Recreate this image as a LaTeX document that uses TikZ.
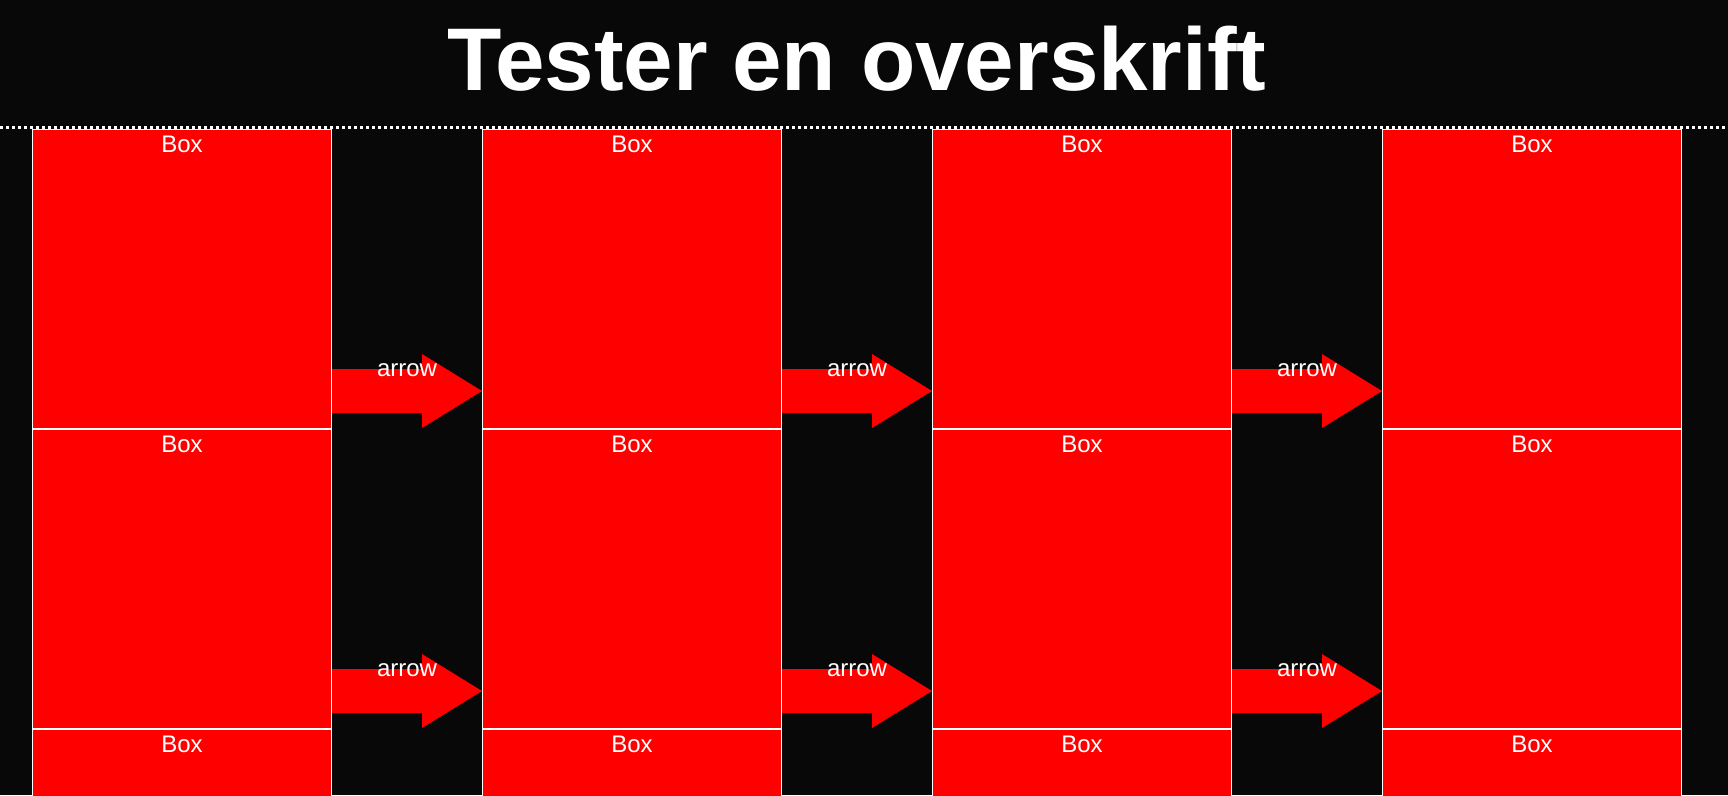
\documentclass[tikz,border=0pt]{standalone}
\usepackage{fontspec}
\setmainfont{Liberation Sans}
\usetikzlibrary{calc}
\definecolor{bgc}{RGB}{8,8,8}
\definecolor{boxred}{RGB}{255,0,0}
\tikzset{
  boxst/.style={draw=white, line width=1pt, fill=boxred, anchor=north west,
    minimum width=299pt, minimum height=299pt, inner sep=0pt, outer sep=0pt},
  boxtxt/.style={text=white, anchor=base, inner sep=0pt,
    font=\fontsize{24}{28}\selectfont},
  arrtxt/.style={text=white, anchor=base, inner sep=0pt,
    font=\fontsize{24}{28}\selectfont},
  arrfill/.style={fill=boxred},
  titlest/.style={text=white, anchor=base, inner sep=0pt,
    font=\fontsize{89}{100}\selectfont\bfseries},
  rule/.style={draw=white, line width=3pt, dash pattern=on 3pt off 3pt}
}
\begin{document}
\begin{tikzpicture}[x=1pt,y=-1pt]
\useasboundingbox (0,0) rectangle (1728,795);
\clip (0,0) rectangle (1728,795);
\fill[bgc] (0,0) rectangle (1728,795);
\node[titlest] (title) at (857,90) {Tester en overskrift};
\coordinate (rl) at (0,127.5);
\coordinate (rr) at (1728,127.5);
\draw[rule] (rl) -- (rr);
\foreach \c in {0,1,2,3}{
  \foreach \r in {0,1,2}{
    \node[boxst] (b\c\r) at ({32.5+450*\c},{129.5+300*\r}) {};
    \node[boxtxt] (t\c\r) at ($(b\c\r.north)+(0,22.5)$) {Box};
  }
}
\foreach \c [evaluate=\c as \n using int(\c+1)] in {0,1,2}{
  \foreach \r in {0,1}{
    \coordinate (s\c\r) at ($(b\c\r.south east)+(0.5,-37.5)$);
    \coordinate (e\c\r) at ($(b\n\r.south west)+(-0.5,-37.5)$);
    \fill[arrfill] ($(s\c\r)+(0,-22)$) -- ($(e\c\r)+(-60,-22)$) -- ($(e\c\r)+(-60,-37)$)
      -- (e\c\r) -- ($(e\c\r)+(-60,37)$) -- ($(e\c\r)+(-60,22)$) -- ($(s\c\r)+(0,22)$) -- cycle;
    \node[arrtxt] (l\c\r) at ($(s\c\r)!0.5!(e\c\r)+(0,-15)$) {arrow};
  }
}
\end{tikzpicture}
\end{document}
